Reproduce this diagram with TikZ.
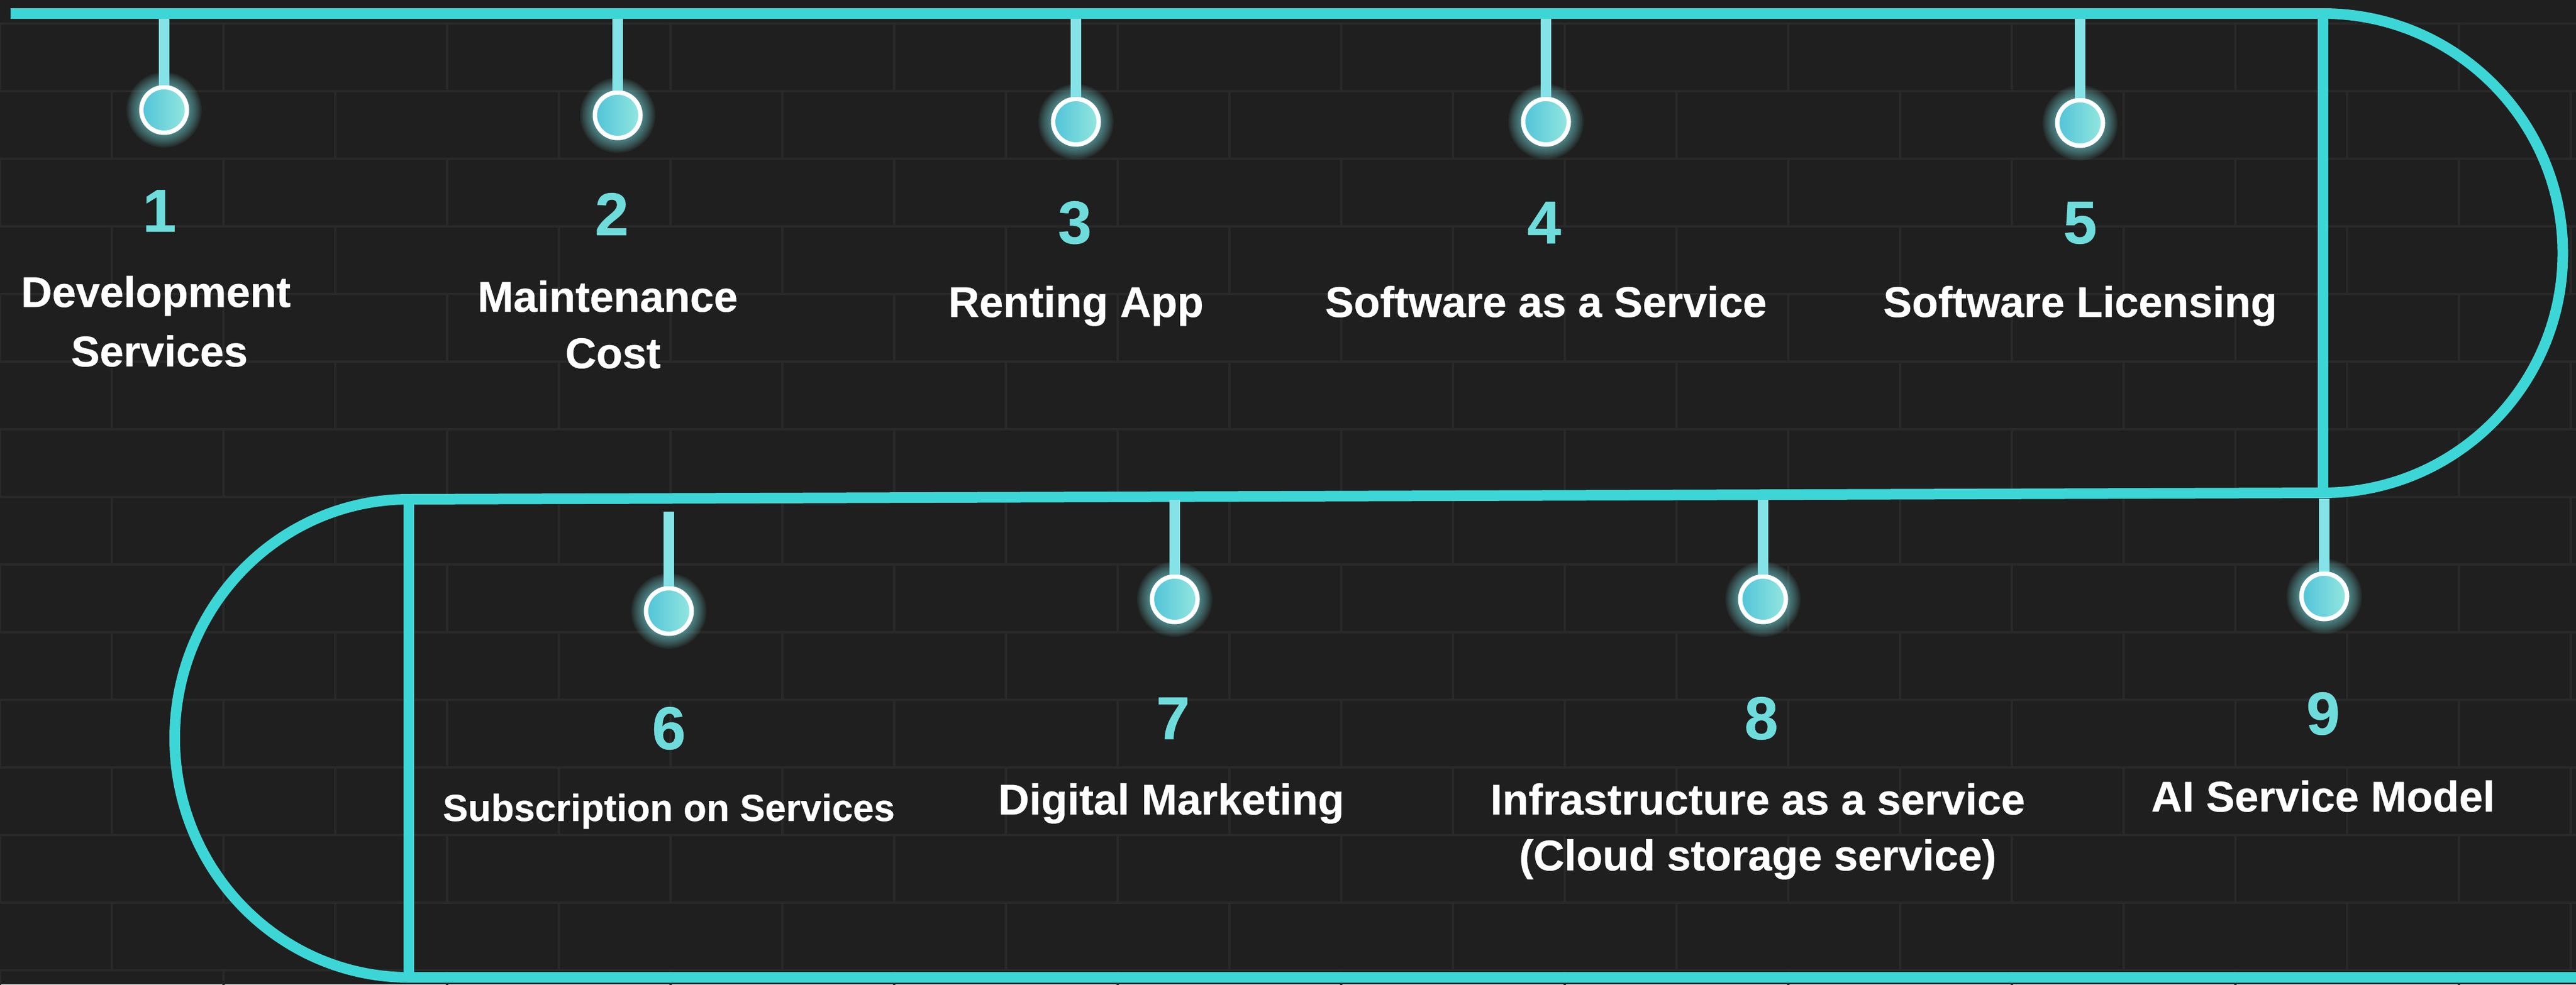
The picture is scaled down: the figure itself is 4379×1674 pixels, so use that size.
\documentclass[tikz,border=0pt]{standalone}
\usepackage{fontspec}
\setmainfont{Liberation Sans}[BoldFeatures={FakeBold=0.4}]
\definecolor{bg}{HTML}{1F1F1F}
\definecolor{mortar}{HTML}{292929}
\definecolor{trackc}{HTML}{3DD6D6}
\definecolor{stemc}{HTML}{85E2E6}
\definecolor{numc}{HTML}{6FDCDC}
\definecolor{dotl}{HTML}{4FC2D8}
\definecolor{dotr}{HTML}{95E8E0}
\definecolor{glowc}{HTML}{7FE8EC}
\begin{document}
\begin{tikzpicture}[x=1pt,y=-1pt,
  track/.style={draw=trackc, line width=18pt},
  stemline/.style={draw=stemc, line width=18pt},
  mortarline/.style={draw=mortar, line width=4pt},
  dot/.style={circle, minimum size=80pt, inner sep=0pt, draw=white, line width=5pt, left color=dotl, right color=dotr},
  num/.style={text=numc, font=\fontsize{103}{110}\selectfont\bfseries, anchor=base, inner sep=0pt},
  lbl/.style={text=white, font=\fontsize{73}{80}\selectfont\bfseries, anchor=base, inner sep=0pt},
  lbls/.style={lbl, font=\fontsize{64}{70}\selectfont\bfseries}]
\useasboundingbox (0,0) rectangle (4379,1674);
\fill[bg] (0,0) rectangle (4379,1674);
% brick texture
\begin{scope}
\clip (0,0) rectangle (4379,1674);
\foreach \r in {0,...,14} {
  \draw[mortarline] (0,\r*115+40) -- (4379,\r*115+40);
  \foreach \c in {0,...,12} {
    \pgfmathsetmacro\xx{\c*380+mod(\r,2)*190}
    \draw[mortarline] (\xx,\r*115+40) -- (\xx,\r*115+155);
  }
}
\end{scope}
% track
\coordinate (tA) at (18,23);
\coordinate (tB) at (3949,23);
\coordinate (tC) at (3949,838);
\coordinate (tD) at (695,849);
\coordinate (tE) at (695,1662);
\coordinate (tF) at (4379,1662);
\draw[track] (tA) -- (tB) arc[start angle=-90,end angle=90,radius=407.5] -- (tD)
  arc[start angle=270,end angle=90,x radius=398,y radius=406.5] -- (tF);
\draw[track] (tB) -- (tC);
\draw[track] (tD) -- (tE);
% dots with stems
\foreach \n/\x/\y/\t in {1/279/187/32, 2/1050/196/32, 3/1829/207/32, 4/2628/207/32, 5/3536/209/32,
  6/1137/1039/870, 7/1997/1019/850, 8/2997/1019/850, 9/3951/1014/848} {
  \foreach \i in {1,...,10} {
    \fill[glowc, opacity=0.07] (\x,\y) circle (40+2.4*\i);
  }
  \coordinate (s\n) at (\x,\t);
  \node[dot] (d\n) at (\x,\y) {};
  \draw[stemline] (s\n) -- (d\n.north);
  \draw[white, line width=5pt] (d\n) circle (37.5);
}
% labels
\node[num] (n1) at (271,394) {1};
\node[lbl] (l1a) at (265,522) {Development};
\node[lbl] (l1b) at (271,623) {Services};
\node[num] (n2) at (1040,400) {2};
\node[lbl] (l2a) at (1033,530) {Maintenance};
\node[lbl] (l2b) at (1042,626) {Cost};
\node[num] (n3) at (1827,414) {3};
\node[lbl] (l3) at (1829,539) {Renting App};
\node[num] (n4) at (2625,414) {4};
\node[lbl] (l4) at (2628,539) {Software as a Service};
\node[num] (n5) at (3536,414) {5};
\node[lbl] (l5) at (3536,539) {Software Licensing};
\node[num] (n6) at (1137,1274) {6};
\node[lbls] (l6) at (1137,1396) {Subscription on Services};
\node[num] (n7) at (1994,1257) {7};
\node[lbl] (l7) at (1991,1385) {Digital Marketing};
\node[num] (n8) at (2994,1257) {8};
\node[lbl] (l8a) at (2988,1385) {Infrastructure as a service};
\node[lbl] (l8b) at (2988,1480) {(Cloud storage service)};
\node[num] (n9) at (3949,1249) {9};
\node[lbl] (l9) at (3949,1380) {AI Service Model};
\end{tikzpicture}
\end{document}
